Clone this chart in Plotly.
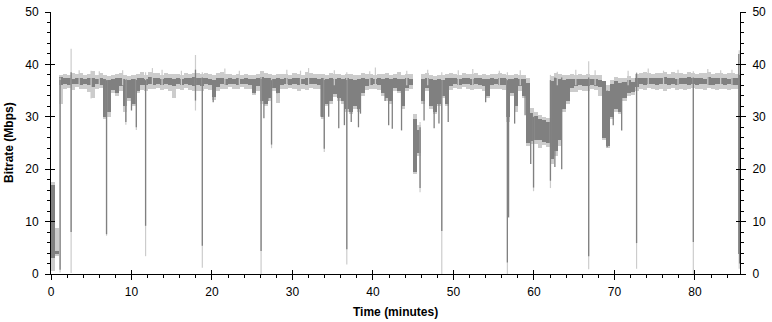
import numpy as np
import plotly.graph_objects as go

BIN = 0.5  # minutes per bin

# min/max of the dark (averaged) trace per 0.5-minute bin
dark_lo = [
    3.0, 3.8, 36.0, 36.2, 36.1, 36.3, 36.2, 36.0, 36.3, 36.1,
    35.6, 36.2, 36.1, 30.0, 31.0, 35.2, 34.5, 35.8, 32.0, 33.5,
    32.5, 35.0, 36.0, 36.1, 36.2, 36.1, 36.3, 36.0, 36.2, 36.1,
    35.8, 36.2, 36.1, 36.3, 36.0, 35.9, 36.0, 35.8, 36.2, 36.1,
    33.8, 35.6, 36.2, 36.1, 36.3, 36.2, 36.1, 36.3, 36.2, 36.1,
    34.6, 35.8, 33.0, 32.5, 33.5, 35.5, 34.6, 36.0, 36.2, 36.1,
    36.2, 36.0, 36.2, 36.1, 36.3, 36.2, 36.0, 30.0, 32.5, 33.0,
    34.3, 33.5, 33.0, 31.5, 31.0, 32.0, 31.5, 34.5, 35.8, 36.1,
    36.2, 36.0, 34.5, 33.5, 33.0, 35.5, 35.0, 32.0, 35.5, 36.0,
    19.5, 23.0, 33.0, 35.5, 32.0, 31.0, 32.5, 34.0, 32.5, 35.8,
    36.2, 36.1, 36.3, 36.2, 36.0, 36.2, 36.1, 35.8, 34.0, 36.1,
    36.2, 36.0, 36.1, 30.0, 34.5, 32.0, 35.8, 34.0, 25.0, 25.3,
    25.5, 25.5, 25.2, 25.0, 22.0, 23.5, 25.5, 31.5, 33.0, 35.5,
    35.9, 36.0, 35.9, 35.8, 36.0, 35.9, 35.7, 26.0, 24.5, 30.0,
    31.5, 31.0, 33.5, 34.5, 34.8, 35.6, 36.2, 36.1, 36.3, 36.2,
    36.1, 36.3, 36.2, 36.0, 36.2, 36.1, 36.3, 36.2, 36.0, 36.2,
    36.1, 36.3, 36.2, 36.1, 36.0, 36.2, 36.3, 36.1, 36.2, 36.0,
    36.1, 36.0,
]
dark_hi = [
    17.0, 4.4, 37.6, 37.4, 37.5, 37.3, 37.4, 37.5, 37.3, 37.4,
    37.4, 37.3, 37.5, 37.2, 37.0, 37.3, 37.4, 37.5, 37.2, 37.0,
    37.3, 37.4, 37.5, 37.3, 37.6, 37.4, 37.5, 37.3, 37.5, 37.4,
    37.3, 37.4, 37.3, 37.5, 37.4, 37.6, 37.5, 37.4, 37.4, 37.3,
    37.1, 37.4, 37.5, 37.3, 37.4, 37.3, 37.4, 37.3, 37.4, 37.3,
    37.3, 37.4, 37.6, 37.5, 37.4, 37.3, 37.4, 37.3, 37.4, 37.3,
    37.4, 37.5, 37.3, 37.4, 37.5, 37.4, 37.3, 37.4, 37.2, 37.5,
    37.3, 37.4, 37.2, 37.4, 37.3, 37.1, 37.2, 37.4, 37.3, 37.4,
    37.3, 37.4, 37.3, 37.4, 37.2, 37.4, 37.3, 37.2, 37.4, 37.3,
    29.5, 27.5, 37.3, 37.5, 37.3, 37.0, 37.2, 37.1, 37.4, 37.5,
    37.4, 37.3, 37.5, 37.4, 37.3, 37.5, 37.4, 37.3, 37.2, 37.4,
    37.3, 37.4, 37.5, 37.3, 37.2, 37.4, 37.3, 37.2, 36.5, 30.8,
    30.2, 29.6, 29.3, 29.0, 36.8, 37.4, 37.3, 37.1, 37.2, 37.3,
    37.2, 37.3, 37.2, 37.3, 37.3, 37.2, 37.1, 36.8, 35.0, 36.2,
    36.8, 36.5, 36.7, 37.0, 36.6, 37.4, 37.5, 37.4, 37.5, 37.4,
    37.5, 37.4, 37.6, 37.4, 37.5, 37.3, 37.5, 37.4, 37.6, 37.4,
    37.4, 37.5, 37.3, 37.6, 37.4, 37.5, 37.4, 37.5, 37.3, 37.5,
    37.4, 37.5,
]
# min/max of the light (raw) trace per bin
light_lo = [
    0.5, 3.5, 32.5, 35.3, 35.5, 35.2, 35.6, 35.3, 35.4, 34.8,
    33.5, 35.4, 35.5, 29.5, 30.0, 34.6, 34.0, 35.0, 31.0, 33.0,
    32.0, 34.5, 35.2, 35.0, 35.4, 35.3, 35.5, 35.2, 35.4, 35.0,
    33.5, 35.3, 35.2, 35.5, 35.1, 35.0, 35.0, 35.0, 35.4, 35.2,
    33.2, 35.0, 35.4, 35.3, 35.6, 35.4, 35.3, 35.6, 35.4, 35.3,
    34.2, 35.0, 32.5, 32.0, 33.0, 35.0, 32.7, 35.3, 35.4, 35.5,
    35.3, 35.0, 35.4, 35.2, 35.5, 35.4, 35.3, 29.5, 32.0, 32.5,
    33.8, 33.0, 32.5, 31.0, 30.5, 31.5, 31.0, 34.0, 35.2, 35.3,
    35.4, 35.2, 34.0, 33.0, 32.5, 35.0, 34.5, 31.5, 35.0, 35.3,
    19.0, 22.5, 32.5, 35.0, 31.5, 30.5, 32.0, 33.5, 32.0, 35.2,
    35.5, 35.3, 35.6, 35.4, 35.2, 35.4, 35.3, 35.0, 33.5, 35.3,
    35.4, 35.3, 35.2, 29.0, 34.0, 31.0, 35.0, 33.5, 24.5, 24.8,
    24.8, 24.0, 24.6, 24.3, 21.0, 22.5, 24.5, 31.0, 32.5, 34.8,
    34.8, 35.2, 35.0, 35.0, 35.3, 35.2, 34.0, 25.5, 24.0, 29.5,
    31.0, 30.5, 33.0, 34.0, 34.2, 35.0, 35.4, 35.2, 35.5, 35.3,
    35.2, 35.4, 35.0, 35.3, 35.5, 35.2, 35.4, 35.1, 35.3, 35.5,
    35.3, 35.4, 35.2, 35.5, 35.3, 35.1, 35.4, 35.3, 35.2, 35.4,
    35.3, 35.2,
]
light_hi = [
    17.5, 8.8, 38.0, 38.2, 38.0, 38.3, 38.1, 38.4, 38.0, 38.2,
    38.8, 38.0, 38.3, 37.9, 37.8, 38.0, 38.1, 38.4, 38.0, 37.8,
    38.0, 38.2, 38.6, 38.0, 38.5, 38.3, 38.4, 38.0, 38.3, 38.2,
    38.1, 38.2, 38.0, 38.4, 38.1, 38.3, 38.4, 38.2, 38.3, 38.1,
    37.9, 38.3, 38.6, 38.2, 38.1, 38.0, 38.2, 38.0, 38.1, 37.9,
    38.0, 38.2, 38.8, 38.4, 38.1, 38.0, 38.2, 38.1, 38.2, 38.0,
    38.3, 38.1, 38.0, 38.5, 38.3, 38.2, 38.1, 38.2, 38.0, 38.3,
    38.2, 38.1, 38.0, 38.2, 38.1, 37.9, 38.0, 38.3, 38.1, 38.2,
    38.0, 38.2, 38.1, 38.3, 38.0, 38.2, 38.6, 38.0, 38.2, 38.1,
    30.5, 28.5, 38.1, 38.3, 38.0, 37.8, 38.0, 37.9, 38.2, 38.3,
    38.2, 38.0, 38.4, 38.1, 38.2, 38.3, 38.0, 38.1, 38.0, 38.2,
    38.1, 38.3, 38.2, 38.0, 38.0, 38.1, 38.0, 38.0, 37.5, 31.6,
    31.0, 30.3, 30.0, 29.8, 37.8, 38.3, 38.2, 38.0, 38.0, 38.2,
    38.0, 38.1, 38.0, 38.2, 38.0, 37.9, 37.9, 36.8, 36.0, 37.0,
    37.6, 37.4, 37.5, 37.8, 37.5, 38.2, 38.3, 38.5, 38.3, 38.2,
    38.4, 38.3, 38.5, 38.2, 38.6, 38.3, 38.4, 38.2, 38.5, 38.3,
    38.2, 38.4, 38.3, 38.5, 38.2, 38.4, 38.3, 38.2, 38.4, 38.3,
    38.2, 38.3,
]

# narrow excursions of the dark trace (minutes, low, high)
dspike_t = [1.13, 2.5, 6.9, 9.3, 10.0, 10.6, 11.75, 17.95, 18.8, 20.15, 25.3, 26.1,
            26.45, 26.95, 27.4, 28.1, 33.55, 33.95, 34.5, 35.75, 36.45, 36.75, 37.3,
            38.2, 38.45, 41.5, 41.95, 42.4, 43.55, 45.85, 46.35, 47.6, 48.2, 48.55,
            49.35, 54.0, 56.7, 56.85, 57.6, 58.9, 59.6, 59.95, 62.05, 62.6, 63.45,
            64.3, 66.8, 69.1, 69.85, 70.9, 72.75, 79.8, 85.45, 85.55]
dspike_lo = [0.8, 8.0, 7.6, 29.0, 31.2, 28.0, 9.2, 33.1, 5.4, 32.8, 34.5, 4.4,
             29.7, 33.0, 24.7, 34.5, 30.0, 23.9, 30.0, 27.8, 28.4, 4.7, 29.0,
             28.0, 30.6, 33.0, 28.4, 27.7, 27.4, 16.4, 29.3, 27.8, 28.7, 8.2,
             29.0, 32.8, 2.2, 10.8, 28.7, 30.3, 21.0, 16.5, 17.8, 20.4, 20.0,
             33.1, 3.4, 24.2, 28.4, 27.4, 5.9, 6.1, 3.8, 2.0]
dspike_hi = [37.0, 38.5, 37.0, 37.0, 37.0, 37.0, 37.0, 39.0, 37.5, 37.0, 37.0, 37.2,
             37.0, 37.0, 37.0, 37.0, 37.0, 37.0, 37.0, 37.0, 37.0, 37.0, 37.0,
             37.0, 37.0, 37.0, 37.0, 37.0, 37.0, 28.0, 37.0, 37.0, 37.0, 37.0,
             37.0, 37.0, 37.0, 37.0, 37.0, 37.0, 30.0, 30.0, 37.0, 37.5, 37.5,
             37.0, 37.5, 35.0, 36.0, 36.5, 38.3, 37.5, 42.0, 38.0]

# narrow excursions of the light trace
lspike_t = [1.13, 2.5, 4.98, 6.9, 9.3, 10.6, 11.75, 12.6, 17.95, 18.8, 26.1, 27.4,
            32.0, 33.95, 36.75, 45.85, 48.55, 56.7, 59.95, 62.05, 66.8, 72.75, 79.8,
            85.5, 3.5, 6.0, 8.9, 13.8, 16.2, 21.6, 23.4, 29.3, 31.0, 35.2, 39.6,
            40.3, 44.2, 46.8, 50.6, 52.4, 55.7, 58.3, 62.9, 65.2, 67.6, 71.7, 74.2,
            76.1, 77.9, 81.6, 83.2, 84.6]
lspike_lo = [0.3, 0.2, 33.5, 7.3, 28.5, 27.5, 3.4, 36.0, 31.2, 1.2, 0.0, 24.0,
             36.0, 23.3, 1.8, 15.6, 0.0, 0.0, 15.8, 16.4, 0.9, 1.0, 0.0,
             1.0, 36.0, 36.0, 36.0, 36.0, 36.0, 36.0, 36.0, 36.0, 36.0, 36.0, 36.0,
             36.0, 36.0, 36.0, 36.0, 36.0, 36.0, 36.0, 36.0, 36.0, 36.0, 36.0, 36.0,
             36.0, 36.0, 36.0, 36.0, 36.0]
lspike_hi = [37.5, 43.0, 38.8, 37.5, 38.0, 38.0, 38.5, 39.3, 41.8, 38.5, 38.7, 38.0,
             39.3, 38.0, 38.5, 29.0, 38.5, 38.5, 31.0, 38.0, 40.6, 38.5, 38.7,
             42.7, 38.9, 38.7, 38.9, 39.0, 38.8, 39.2, 38.8, 39.0, 38.8, 38.9, 38.7,
             39.4, 38.8, 39.0, 38.9, 39.1, 38.8, 38.9, 38.6, 39.0, 38.9, 38.8, 39.2,
             38.8, 39.0, 39.1, 38.9, 39.0]

X_MAX = 85.6
LIGHT = "#cccccc"
DARK = "#808080"

n = min(len(dark_lo), len(dark_hi), len(light_lo), len(light_hi))
centers = np.arange(n) * BIN + BIN / 2


def segs(ts, los, his):
    xs, ys = [], []
    for t, lo, hi in zip(ts, los, his):
        xs += [t, t, None]
        ys += [lo, hi, None]
    return xs, ys


fig = go.Figure()
fig.add_trace(go.Bar(x=centers, base=light_lo[:n],
                     y=[h - l for h, l in zip(light_hi[:n], light_lo[:n])],
                     width=BIN, marker=dict(color=LIGHT, line=dict(width=0)),
                     hoverinfo="skip"))
lx, ly = segs(lspike_t, lspike_lo, lspike_hi)
fig.add_trace(go.Scatter(x=lx, y=ly, mode="lines", line=dict(color=LIGHT, width=1.2),
                         hoverinfo="skip"))
fig.add_trace(go.Bar(x=centers, base=dark_lo[:n],
                     y=[h - l for h, l in zip(dark_hi[:n], dark_lo[:n])],
                     width=BIN, marker=dict(color=DARK, line=dict(width=0)),
                     hoverinfo="skip"))
dx, dy = segs(dspike_t, dspike_lo, dspike_hi)
fig.add_trace(go.Scatter(x=dx, y=dy, mode="lines", line=dict(color=DARK, width=1.3),
                         hoverinfo="skip"))

# dummy traces to activate extra tick axes
for xa, ya in [("x", "y2"), ("x", "y3"), ("x", "y4"), ("x2", "y")]:
    fig.add_trace(go.Scatter(x=[None], y=[None], xaxis=xa, yaxis=ya, showlegend=False,
                             hoverinfo="skip"))

font = dict(family="Liberation Sans, Arial, sans-serif", size=12, color="black")
common_y = dict(range=[0, 50], dtick=10, tick0=0, showgrid=False, zeroline=False,
                fixedrange=True, automargin=False)

fig.update_layout(
    width=772, height=322,
    margin=dict(l=51, r=32, t=12, b=48, autoexpand=False),
    paper_bgcolor="white", plot_bgcolor="white",
    showlegend=False, barmode="overlay", bargap=0,
    font=font,
    xaxis=dict(range=[0, X_MAX], dtick=10, tick0=0, showgrid=False, zeroline=False,
               showline=True, linecolor="black", linewidth=1, automargin=False,
               ticks="outside", ticklen=5, tickcolor="black",
               minor=dict(ticks="outside", ticklen=3, dtick=2, tickcolor="black",
                          showgrid=False),
               ticklabelstandoff=2, tickfont=font),
    xaxis2=dict(range=[0, X_MAX], dtick=10, tick0=0, overlaying="x", anchor="y",
                side="bottom", showgrid=False, zeroline=False, showline=False,
                automargin=False,
                ticks="inside", ticklen=4, tickcolor="black", showticklabels=False),
    yaxis=dict(**common_y, showline=True, linecolor="black", linewidth=1,
               ticks="outside", ticklen=5, tickcolor="black",
               minor=dict(ticks="outside", ticklen=3, dtick=2, tickcolor="black",
                          showgrid=False),
               ticklabelstandoff=4, tickfont=font),
    yaxis2=dict(**common_y, overlaying="y", side="right", anchor="x",
                showline=True, linecolor="black", linewidth=1,
                ticks="outside", ticklen=5, tickcolor="black",
                minor=dict(ticks="outside", ticklen=3, dtick=2, tickcolor="black",
                           showgrid=False),
                ticklabelstandoff=4, tickfont=font),
    yaxis3=dict(**common_y, overlaying="y", side="left", anchor="x", showline=False,
                ticks="inside", ticklen=4, tickcolor="black", showticklabels=False),
    yaxis4=dict(**common_y, overlaying="y", side="right", anchor="x", showline=False,
                ticks="inside", ticklen=4, tickcolor="black", showticklabels=False),
    annotations=[
        dict(text="<b>Time (minutes)</b>", xref="paper", yref="paper", x=0.5, y=0,
             xanchor="center", yanchor="middle", yshift=-38, showarrow=False,
             font=font),
        dict(text="<b>Bitrate (Mbps)</b>", xref="paper", yref="paper", x=0, y=0.5,
             xanchor="center", yanchor="middle", xshift=-42, textangle=-90,
             showarrow=False, font=font),
    ],
)

# remove the default 8px page margin so the figure fills the window exactly
fig.write_html("out.html",
               config={"displayModeBar": False, "staticPlot": True},
               post_script="document.body.style.margin='0';"
                           "document.body.style.overflow='hidden';")
